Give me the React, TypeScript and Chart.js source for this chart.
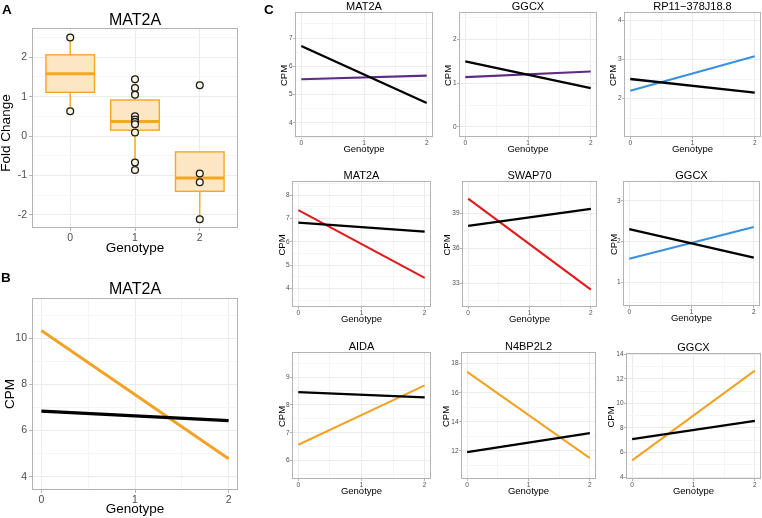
import React, { useEffect, useRef } from 'react';
import { Chart, registerables } from 'chart.js';

Chart.register(...registerables);

const FONT = '"Liberation Sans", Arial, Helvetica, sans-serif';

// ---------- Panel A (box plot) data ----------
const boxGenotypes = [0, 1, 2];
const boxLowerWhisker = [0.63, -0.86, -2.11];
const boxQ1 = [1.11, 0.15, -1.4];
const boxMedian = [1.58, 0.37, -1.06];
const boxQ3 = [2.06, 0.915, -0.4];
const boxUpperWhisker = [2.5, 1.44, -0.4];
const pointsGenotype0 = [2.5, 0.63];
const pointsGenotype1 = [1.44, 1.22, 1.05, 0.5, 0.42, 0.36, 0.3, 0.09, -0.67, -0.86];
const pointsGenotype2 = [1.29, -0.95, -1.17, -2.11];

// ---------- Panel B (lines) data ----------
const lineX = [0, 2];
const bBlack = [6.84, 6.43];
const bOrange = [10.33, 4.77];

// ---------- Panel C (3x3 lines) data ----------
const cTitles = ['MAT2A', 'GGCX', 'RP11\u2212378J18.8', 'MAT2A', 'SWAP70', 'GGCX', 'AIDA', 'N4BP2L2', 'GGCX'];
const cBlack = [
  [6.72, 4.7],
  [1.5, 0.89],
  [2.5, 2.15],
  [6.83, 6.44],
  [37.91, 39.37],
  [2.31, 1.61],
  [8.46, 8.27],
  [11.91, 13.22],
  [7.08, 8.57],
];
const cColored = [
  [5.54, 5.67],
  [1.14, 1.27],
  [2.2, 3.08],
  [7.36, 4.46],
  [40.26, 32.43],
  [1.58, 2.36],
  [6.57, 8.7],
  [17.43, 11.5],
  [5.35, 12.67],
];
const cColorKeys = ['purple', 'purple', 'blue', 'red', 'red', 'blue', 'orange', 'orange', 'orange'];
const cYMin = [3.5, -0.23, 1.02, 3.21, 30.94, 0.42, 5.34, 10.07, 3.84];
const cYMax = [7.92, 2.63, 4.21, 8.61, 41.77, 3.49, 9.9, 18.8, 14.1];
const cYMajor = [1, 1, 1, 1, 3, 1, 1, 2, 2];

// ---------- styles / layout ----------
const COLORS: Record<string, string> = {
  purple: '#5e2b85',
  blue: '#3a8fe0',
  red: '#e01b1d',
  orange: '#f2a327',
  black: '#000000',
};
const GRID_MAJOR = '#ebebeb';
const GRID_MINOR = '#f5f5f5';
const FRAME = '#b3b3b3';
const TICK_TEXT = '#4d4d4d';
const BOX_LINE = '#f5a623';
const BOX_FILL = '#fde6c4';

// plot rectangles [left, top, right, bottom] in page pixels
const cGeo = [
  [295, 12, 433, 137],
  [459, 12, 597, 137],
  [624, 12, 761, 137],
  [292, 181, 431, 307],
  [462, 181, 597, 307],
  [623, 181, 760, 306],
  [292, 352, 431, 479],
  [461, 352, 596, 479],
  [626, 353, 761, 479],
];
const cYTitleOffset = [10.2, 10.2, 10.3, 10.1, 14.4, 9.1, 9.5, 14.4, 14.3];

type Geo = { l: number; t: number; r: number; b: number; W: number; T: number; H: number; R: number };

function canvasRect(g: Geo) {
  return { left: g.l - g.W, top: g.t - g.T, width: g.r - g.l + g.W + g.R, height: g.b - g.t + g.T + g.H };
}

function axis(o: {
  min: number;
  max: number;
  minor: number;
  major: number;
  fontSize: number;
  tickLen: number;
  tickPad: number;
  size: number;
  horizontal: boolean;
}) {
  const isMajor = (v: number) => Math.abs(v / o.major - Math.round(v / o.major)) < 1e-6;
  return {
    type: 'linear',
    position: o.horizontal ? 'bottom' : 'left',
    min: o.min,
    max: o.max,
    afterFit: (s: any) => {
      if (o.horizontal) s.height = o.size;
      else s.width = o.size;
    },
    border: { display: false },
    grid: {
      color: (c: any) => (c.tick && isMajor(c.tick.value) ? GRID_MAJOR : GRID_MINOR),
      lineWidth: 1,
      drawTicks: true,
      tickLength: o.tickLen,
      tickWidth: 1,
      tickColor: (c: any) => (c.tick && isMajor(c.tick.value) ? FRAME : 'rgba(0,0,0,0)'),
    },
    ticks: {
      stepSize: o.minor,
      includeBounds: false,
      autoSkip: false,
      maxRotation: 0,
      minRotation: 0,
      padding: o.tickPad,
      color: TICK_TEXT,
      font: { family: FONT, size: o.fontSize },
      callback: (v: any) => (isMajor(Number(v)) ? String(Math.round(Number(v))) : ''),
    },
  };
}

const framePlugin = {
  id: 'frame',
  afterDraw(chart: any) {
    const { ctx, chartArea: a } = chart;
    ctx.save();
    ctx.strokeStyle = FRAME;
    ctx.lineWidth = 1;
    ctx.strokeRect(a.left + 0.5, a.top + 0.5, a.right - a.left - 1, a.bottom - a.top - 1);
    ctx.restore();
  },
};

const panelTextPlugin = {
  id: 'panelText',
  afterDraw(chart: any, _args: any, o: any) {
    const { ctx, chartArea: a } = chart;
    const cx = (a.left + a.right) / 2;
    ctx.save();
    ctx.fillStyle = '#000';
    ctx.textAlign = 'center';
    ctx.textBaseline = 'alphabetic';
    ctx.font = `${o.titleSize}px ${FONT}`;
    ctx.fillText(o.title, cx, a.top - o.titleGap);
    ctx.font = `${o.axisSize}px ${FONT}`;
    ctx.fillText(o.xTitle, cx, a.bottom + o.xTitleGap);
    ctx.translate(a.left - o.yTitleOffset, (a.top + a.bottom) / 2 + o.yTitleShift);
    ctx.rotate(-Math.PI / 2);
    ctx.textBaseline = 'middle';
    ctx.fillText(o.yTitle, 0, 0);
    ctx.restore();
  },
};

const boxPlotPlugin = {
  id: 'boxPlot',
  beforeDatasetsDraw(chart: any) {
    const { ctx } = chart;
    const xs = chart.scales.x;
    const ys = chart.scales.y;
    ctx.save();
    boxGenotypes.forEach((g, i) => {
      const cx = xs.getPixelForValue(g);
      const left = xs.getPixelForValue(g - 0.375);
      const right = xs.getPixelForValue(g + 0.375);
      const q1 = ys.getPixelForValue(boxQ1[i]);
      const q3 = ys.getPixelForValue(boxQ3[i]);
      const med = ys.getPixelForValue(boxMedian[i]);
      const lo = ys.getPixelForValue(boxLowerWhisker[i]);
      const hi = ys.getPixelForValue(boxUpperWhisker[i]);
      ctx.strokeStyle = BOX_LINE;
      ctx.lineWidth = 1.4;
      ctx.beginPath();
      ctx.moveTo(cx, q3);
      ctx.lineTo(cx, hi);
      ctx.moveTo(cx, q1);
      ctx.lineTo(cx, lo);
      ctx.stroke();
      ctx.fillStyle = BOX_FILL;
      ctx.fillRect(left, q3, right - left, q1 - q3);
      ctx.strokeRect(left, q3, right - left, q1 - q3);
      ctx.lineWidth = 3;
      ctx.beginPath();
      ctx.moveTo(left, med);
      ctx.lineTo(right, med);
      ctx.stroke();
    });
    ctx.restore();
  },
};

function baseOptions(geo: Geo, scales: any, text: any) {
  return {
    responsive: false,
    maintainAspectRatio: false,
    animation: false,
    devicePixelRatio: 1,
    events: [],
    layout: { padding: { left: 0, top: geo.T, right: geo.R, bottom: 0 } },
    scales,
    plugins: {
      legend: { display: false },
      tooltip: { enabled: false },
      title: { display: false },
      panelText: text,
    },
  };
}

function lineDataset(ys: number[], color: string, width: number) {
  return {
    data: lineX.map((x, i) => ({ x, y: ys[i] })),
    showLine: true,
    borderColor: color,
    backgroundColor: color,
    borderWidth: width,
    pointRadius: 0,
    fill: false,
  };
}

function pointDataset(genotype: number, values: number[]) {
  return {
    data: values.map((v) => ({ x: genotype, y: v })),
    showLine: false,
    pointRadius: 3.4,
    pointBorderWidth: 1.3,
    borderColor: '#1a1a1a',
    backgroundColor: '#fff4de',
  };
}

const geoA: Geo = { l: 32, t: 28, r: 238, b: 228, W: 32, T: 28, H: 30, R: 6 };
const geoB: Geo = { l: 32, t: 298, r: 238, b: 490, W: 32, T: 20, H: 28, R: 6 };

function buildA(geo: Geo) {
  return {
    type: 'scatter',
    data: {
      datasets: [
        pointDataset(0, pointsGenotype0),
        pointDataset(1, pointsGenotype1),
        pointDataset(2, pointsGenotype2),
      ],
    },
    options: baseOptions(
      geo,
      {
        x: axis({ min: -0.59, max: 2.59, minor: 1, major: 1, fontSize: 10.5, tickLen: 3, tickPad: 1, size: geo.H, horizontal: true }),
        y: axis({ min: -2.33, max: 2.74, minor: 0.5, major: 1, fontSize: 10.5, tickLen: 3, tickPad: 2, size: geo.W, horizontal: false }),
      },
      {
        title: 'MAT2A', titleSize: 16, titleGap: 3,
        xTitle: 'Genotype', axisSize: 13.5, xTitleGap: 24,
        yTitle: 'Fold Change', yTitleOffset: 25.5, yTitleShift: 5,
      }
    ),
    plugins: [boxPlotPlugin, framePlugin, panelTextPlugin],
  };
}

function buildB(geo: Geo) {
  return {
    type: 'scatter',
    data: {
      datasets: [lineDataset(bBlack, COLORS.black, 3.2), lineDataset(bOrange, COLORS.orange, 3)],
    },
    options: baseOptions(
      geo,
      {
        x: axis({ min: -0.1, max: 2.1, minor: 0.5, major: 1, fontSize: 10.5, tickLen: 3, tickPad: 1, size: geo.H, horizontal: true }),
        y: axis({ min: 3.42, max: 11.74, minor: 1, major: 2, fontSize: 10.5, tickLen: 3, tickPad: 2, size: geo.W, horizontal: false }),
      },
      {
        title: 'MAT2A', titleSize: 16, titleGap: 3.7,
        xTitle: 'Genotype', axisSize: 13.5, xTitleGap: 22.5,
        yTitle: 'CPM', yTitleOffset: 22, yTitleShift: 0,
      }
    ),
    plugins: [framePlugin, panelTextPlugin],
  };
}

function cGeoOf(i: number): Geo {
  const [l, t, r, b] = cGeo[i];
  return { l, t, r, b, W: 24, T: 12, H: 20, R: 4 };
}

function buildC(i: number) {
  const geo = cGeoOf(i);
  return {
    type: 'scatter',
    data: {
      datasets: [lineDataset(cBlack[i], COLORS.black, 2.3), lineDataset(cColored[i], COLORS[cColorKeys[i]], 2.1)],
    },
    options: baseOptions(
      geo,
      {
        x: axis({ min: -0.1, max: 2.1, minor: 0.5, major: 1, fontSize: 6.5, tickLen: 2, tickPad: 0.5, size: geo.H, horizontal: true }),
        y: axis({ min: cYMin[i], max: cYMax[i], minor: cYMajor[i] / 2, major: cYMajor[i], fontSize: 6.5, tickLen: 2, tickPad: 0.5, size: geo.W, horizontal: false }),
      },
      {
        title: cTitles[i], titleSize: 11, titleGap: 2.5,
        xTitle: 'Genotype', axisSize: 9.5, xTitleGap: 15.3,
        yTitle: 'CPM', yTitleOffset: cYTitleOffset[i], yTitleShift: 1,
      }
    ),
    plugins: [framePlugin, panelTextPlugin],
  };
}

function Panel({ geo, build }: { geo: Geo; build: () => any }) {
  const ref = useRef<HTMLCanvasElement>(null);
  useEffect(() => {
    const chart = new Chart(ref.current as HTMLCanvasElement, build());
    return () => chart.destroy();
  }, []);
  const rc = canvasRect(geo);
  return (
    <canvas
      ref={ref}
      width={rc.width}
      height={rc.height}
      style={{ position: 'absolute', left: rc.left, top: rc.top, width: rc.width, height: rc.height }}
    />
  );
}

const labelStyle: React.CSSProperties = {
  position: 'absolute',
  fontFamily: FONT,
  fontWeight: 'bold',
  fontSize: 13.5,
  lineHeight: 1,
  color: '#000',
};

export default function App() {
  return (
    <div
      style={{
        position: 'absolute',
        left: 0,
        top: 0,
        width: 762,
        height: 518,
        overflow: 'hidden',
        background: '#fff',
      }}
    >
      <Panel geo={geoA} build={() => buildA(geoA)} />
      <Panel geo={geoB} build={() => buildB(geoB)} />
      {cTitles.map((_, i) => (
        <Panel key={i} geo={cGeoOf(i)} build={() => buildC(i)} />
      ))}
      <div style={{ ...labelStyle, left: 2, top: 2.5 }}>A</div>
      <div style={{ ...labelStyle, left: 1, top: 271 }}>B</div>
      <div style={{ ...labelStyle, left: 264, top: 2.5 }}>C</div>
    </div>
  );
}
